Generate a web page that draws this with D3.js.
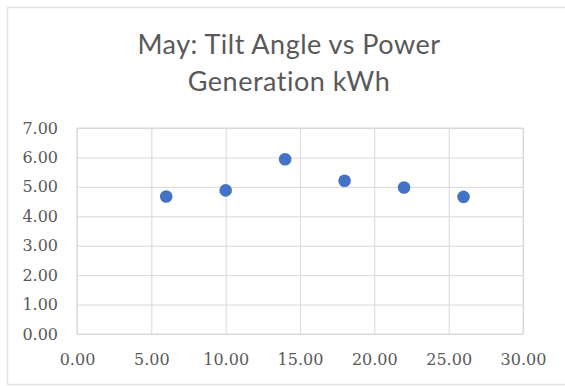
<!DOCTYPE html>
<html>
<head>
<meta charset="utf-8">
<script src="https://cdn.jsdelivr.net/npm/d3@7"></script>
<style>
  body { margin: 0; background: #fff; }
</style>
</head>
<body>
<svg width="565" height="386"></svg>
<script>
// data
var tiltAngles = [6, 10, 14, 18, 22, 26];
var powerKwh = [4.67, 4.88, 5.94, 5.21, 4.98, 4.66];
var xTicks = [0, 5, 10, 15, 20, 25, 30];
var yTicks = [0, 1, 2, 3, 4, 5, 6, 7];
var titleLines = ["May: Tilt Angle vs Power", "Generation kWh"];

var svg = d3.select("svg"),
    margin = {top: 128, right: 42, bottom: 52, left: 77},
    width = +svg.attr("width") - margin.left - margin.right,
    height = +svg.attr("height") - margin.top - margin.bottom;

// chart outer border
svg.append("rect")
    .attr("x", 7.5).attr("y", 7.5)
    .attr("width", 570).attr("height", 377)
    .attr("fill", "none")
    .attr("stroke", "#e3e3e3")
    .attr("stroke-width", 1.5);

var g = svg.append("g").attr("transform", "translate(" + margin.left + "," + margin.top + ")");

var x = d3.scaleLinear().domain([0, 30]).range([0, width]);
var y = d3.scaleLinear().domain([0, 7]).range([height, 0]);

// title
svg.append("g").selectAll("text")
    .data(titleLines)
    .enter().append("text")
    .attr("x", 289)
    .attr("y", function(d, i) { return 54 + i * 37; })
    .attr("text-anchor", "middle")
    .attr("fill", "#595959")
    .style("font", "27px Lato, 'Noto Sans', sans-serif")
    .style("letter-spacing", "0.5px")
    .text(function(d) { return d; });

// gridlines
g.append("g")
    .call(d3.axisLeft(y).tickValues(yTicks).tickSize(-width).tickFormat(""))
    .call(function(a) { a.select(".domain").remove(); })
    .selectAll("line").attr("stroke", "#d9d9d9");

g.append("g")
    .attr("transform", "translate(0," + height + ")")
    .call(d3.axisBottom(x).tickValues(xTicks).tickSize(-height).tickFormat(""))
    .call(function(a) { a.select(".domain").remove(); })
    .selectAll("line").attr("stroke", "#d9d9d9");

g.append("rect")
    .attr("width", width).attr("height", height)
    .attr("fill", "none")
    .attr("stroke", "#d9d9d9");

// tick labels
var yAxis = g.append("g")
    .call(d3.axisLeft(y).tickValues(yTicks).tickSize(0).tickPadding(19).tickFormat(d3.format(".2f")));
yAxis.select(".domain").remove();

var xAxis = g.append("g")
    .attr("transform", "translate(0," + height + ")")
    .call(d3.axisBottom(x).tickValues(xTicks).tickSize(0).tickPadding(20).tickFormat(d3.format(".2f")));
xAxis.select(".domain").remove();

svg.selectAll(".tick text")
    .attr("fill", "#595959")
    .style("font", "16px 'DejaVu Serif', serif");

// points
g.selectAll(".dot")
    .data(tiltAngles)
    .enter().append("circle")
    .attr("class", "dot")
    .attr("cx", function(d) { return x(d); })
    .attr("cy", function(d, i) { return y(powerKwh[i]); })
    .attr("r", 6.3)
    .attr("fill", "#4472c4");
</script>
</body>
</html>
